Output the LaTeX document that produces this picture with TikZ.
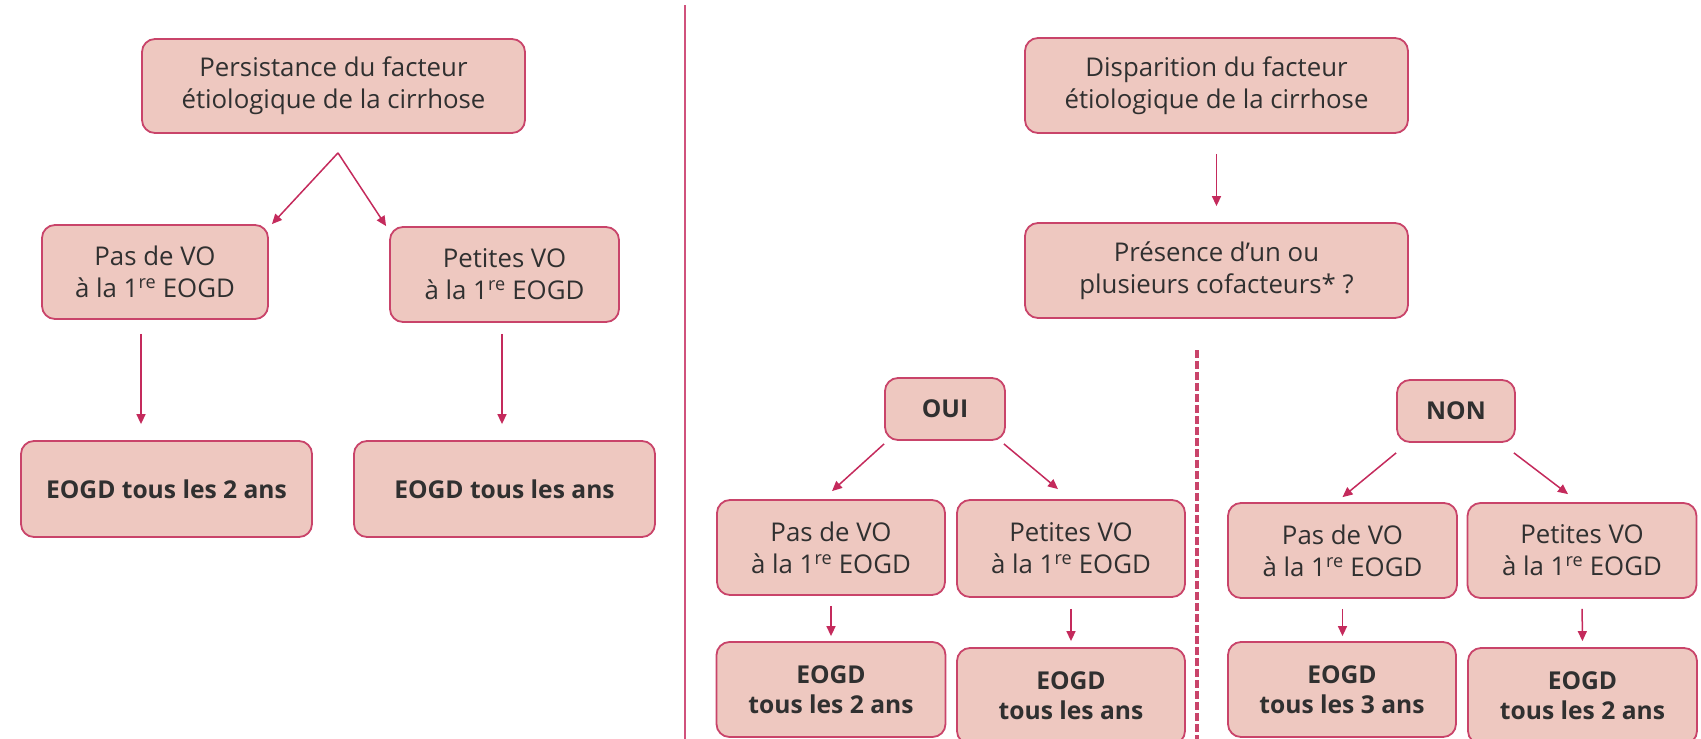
\documentclass[tikz,border=0pt]{standalone}
\usepackage{fontspec}
\setmainfont{Open Sans}
\usetikzlibrary{arrows.meta,calc}

\definecolor{boxfill}{HTML}{EEC8C0}
\definecolor{boxline}{HTML}{C9446A}
\definecolor{arrowcol}{HTML}{C42A5C}
\definecolor{sepcol}{HTML}{D0527C}
\definecolor{txt}{HTML}{303030}

\tikzset{
  card/.style={draw=boxline, line width=1.8pt, fill=boxfill, rounded corners=13pt,
    align=center, inner sep=0pt, text=txt,
    font=\fontsize{25.8}{32}\selectfont},
  boldcard/.style={card, font=\fontsize{24.6}{30}\selectfont\bfseries},
  arr/.style={draw=arrowcol, line width=1.5pt, -{Triangle[length=10pt,width=9pt]}},
}

\newcommand{\premiere}{1\textsuperscript{re}}

\begin{document}
\begin{tikzpicture}[x=1pt,y=-1pt]
\useasboundingbox (0,0) rectangle (1701,739);

% ---- left half: persistent aetiological factor
\node[card, minimum width=383pt, minimum height=94pt] (topL) at (333.5,86)
  {Persistance du facteur\\étiologique de la cirrhose};
\node[card, minimum width=226pt, minimum height=94pt] (pasL) at (155,272)
  {Pas de VO\\à la \premiere{} EOGD};
\node[card, minimum width=229pt, minimum height=95pt] (petL) at (504.5,274.5)
  {Petites VO\\à la \premiere{} EOGD};
\node[boldcard, minimum width=291pt, minimum height=96pt] (eoL1) at (166.5,489)
  {EOGD tous les 2 ans};
\node[boldcard, minimum width=301pt, minimum height=96pt] (eoL2) at (504.5,489)
  {EOGD tous les ans};

\coordinate (apexL) at ($(topL.south)+(4.5,19)$);
\draw[arr] (apexL) -- ($(pasL.north east)+(3,0)$);
\draw[arr] (apexL) -- ($(petL.north west)+(-3,0)$);
\draw[arr, shorten <=14pt, shorten >=16pt] ([xshift=-14pt]pasL.south) -- ([xshift=-14pt]pasL.south |- eoL1.north);
\draw[arr, shorten <=11pt, shorten >=16pt] ([xshift=-2.5pt]petL.south) -- ([xshift=-2.5pt]petL.south |- eoL2.north);

% ---- separator between the two halves
\draw[sepcol, line width=1.6pt] (685,5) -- (685,739);

% ---- right half: disappeared aetiological factor
\node[card, minimum width=383pt, minimum height=95pt] (dis) at (1216.5,85.5)
  {Disparition du facteur\\étiologique de la cirrhose};
\node[card, minimum width=383pt, minimum height=95pt] (pres) at (1216.5,270.5)
  {Présence d’un ou\\plusieurs cofacteurs* ?};
\draw[arr, shorten <=20pt, shorten >=16pt] (dis.south) -- (pres.north);

\draw[boxline, line width=3.5pt, dash pattern=on 8pt off 3pt] (1197,350) -- (1197,739);

\node[boldcard, minimum width=120pt, minimum height=62pt] (oui) at (945,409) {OUI};
\node[boldcard, minimum width=118pt, minimum height=62pt] (non) at (1456,411) {NON};

\node[card, minimum width=228pt, minimum height=95pt] (pasO) at (831,547.5)
  {Pas de VO\\à la \premiere{} EOGD};
\node[card, minimum width=228pt, minimum height=97pt] (petO) at (1071,548.5)
  {Petites VO\\à la \premiere{} EOGD};
\node[card, minimum width=229pt, minimum height=95pt] (pasN) at (1342.5,550.5)
  {Pas de VO\\à la \premiere{} EOGD};
\node[card, minimum width=229pt, minimum height=95pt] (petN) at (1582,550.5)
  {Petites VO\\à la \premiere{} EOGD};

\node[boldcard, minimum width=229pt, minimum height=95pt] (eoO1) at (831,689.5)
  {EOGD\\tous les 2 ans};
\node[boldcard, minimum width=228pt, minimum height=96pt] (eoO2) at (1071,696)
  {EOGD\\tous les ans};
\node[boldcard, minimum width=228pt, minimum height=95pt] (eoN1) at (1342,689.5)
  {EOGD\\tous les 3 ans};
\node[boldcard, minimum width=229pt, minimum height=96pt] (eoN2) at (1582.5,696)
  {EOGD\\tous les 2 ans};

\draw[arr] ($(oui.south west)+(0,3)$) -- ($(pasO.north)+(1,-8)$);
\draw[arr] ($(oui.south east)+(-2,3)$) -- ($(petO.north)+(-13,-10)$);
\draw[arr] ($(non.south west)+(0,10)$) -- ($(pasN.north)+(0,-5)$);
\draw[arr] ($(non.south east)+(-2,10)$) -- ($(petN.north)+(-14,-8)$);

\draw[arr, shorten <=10pt, shorten >=5pt] (pasO.south) -- (eoO1.north);
\draw[arr, shorten <=11pt, shorten >=6pt] (petO.south) -- (eoO2.north);
\draw[arr, shorten <=10pt, shorten >=5pt] (pasN.south) -- (pasN.south |- eoN1.north);
\draw[arr, shorten <=10pt, shorten >=6pt] (petN.south) -- (eoN2.north);
\end{tikzpicture}
\end{document}
